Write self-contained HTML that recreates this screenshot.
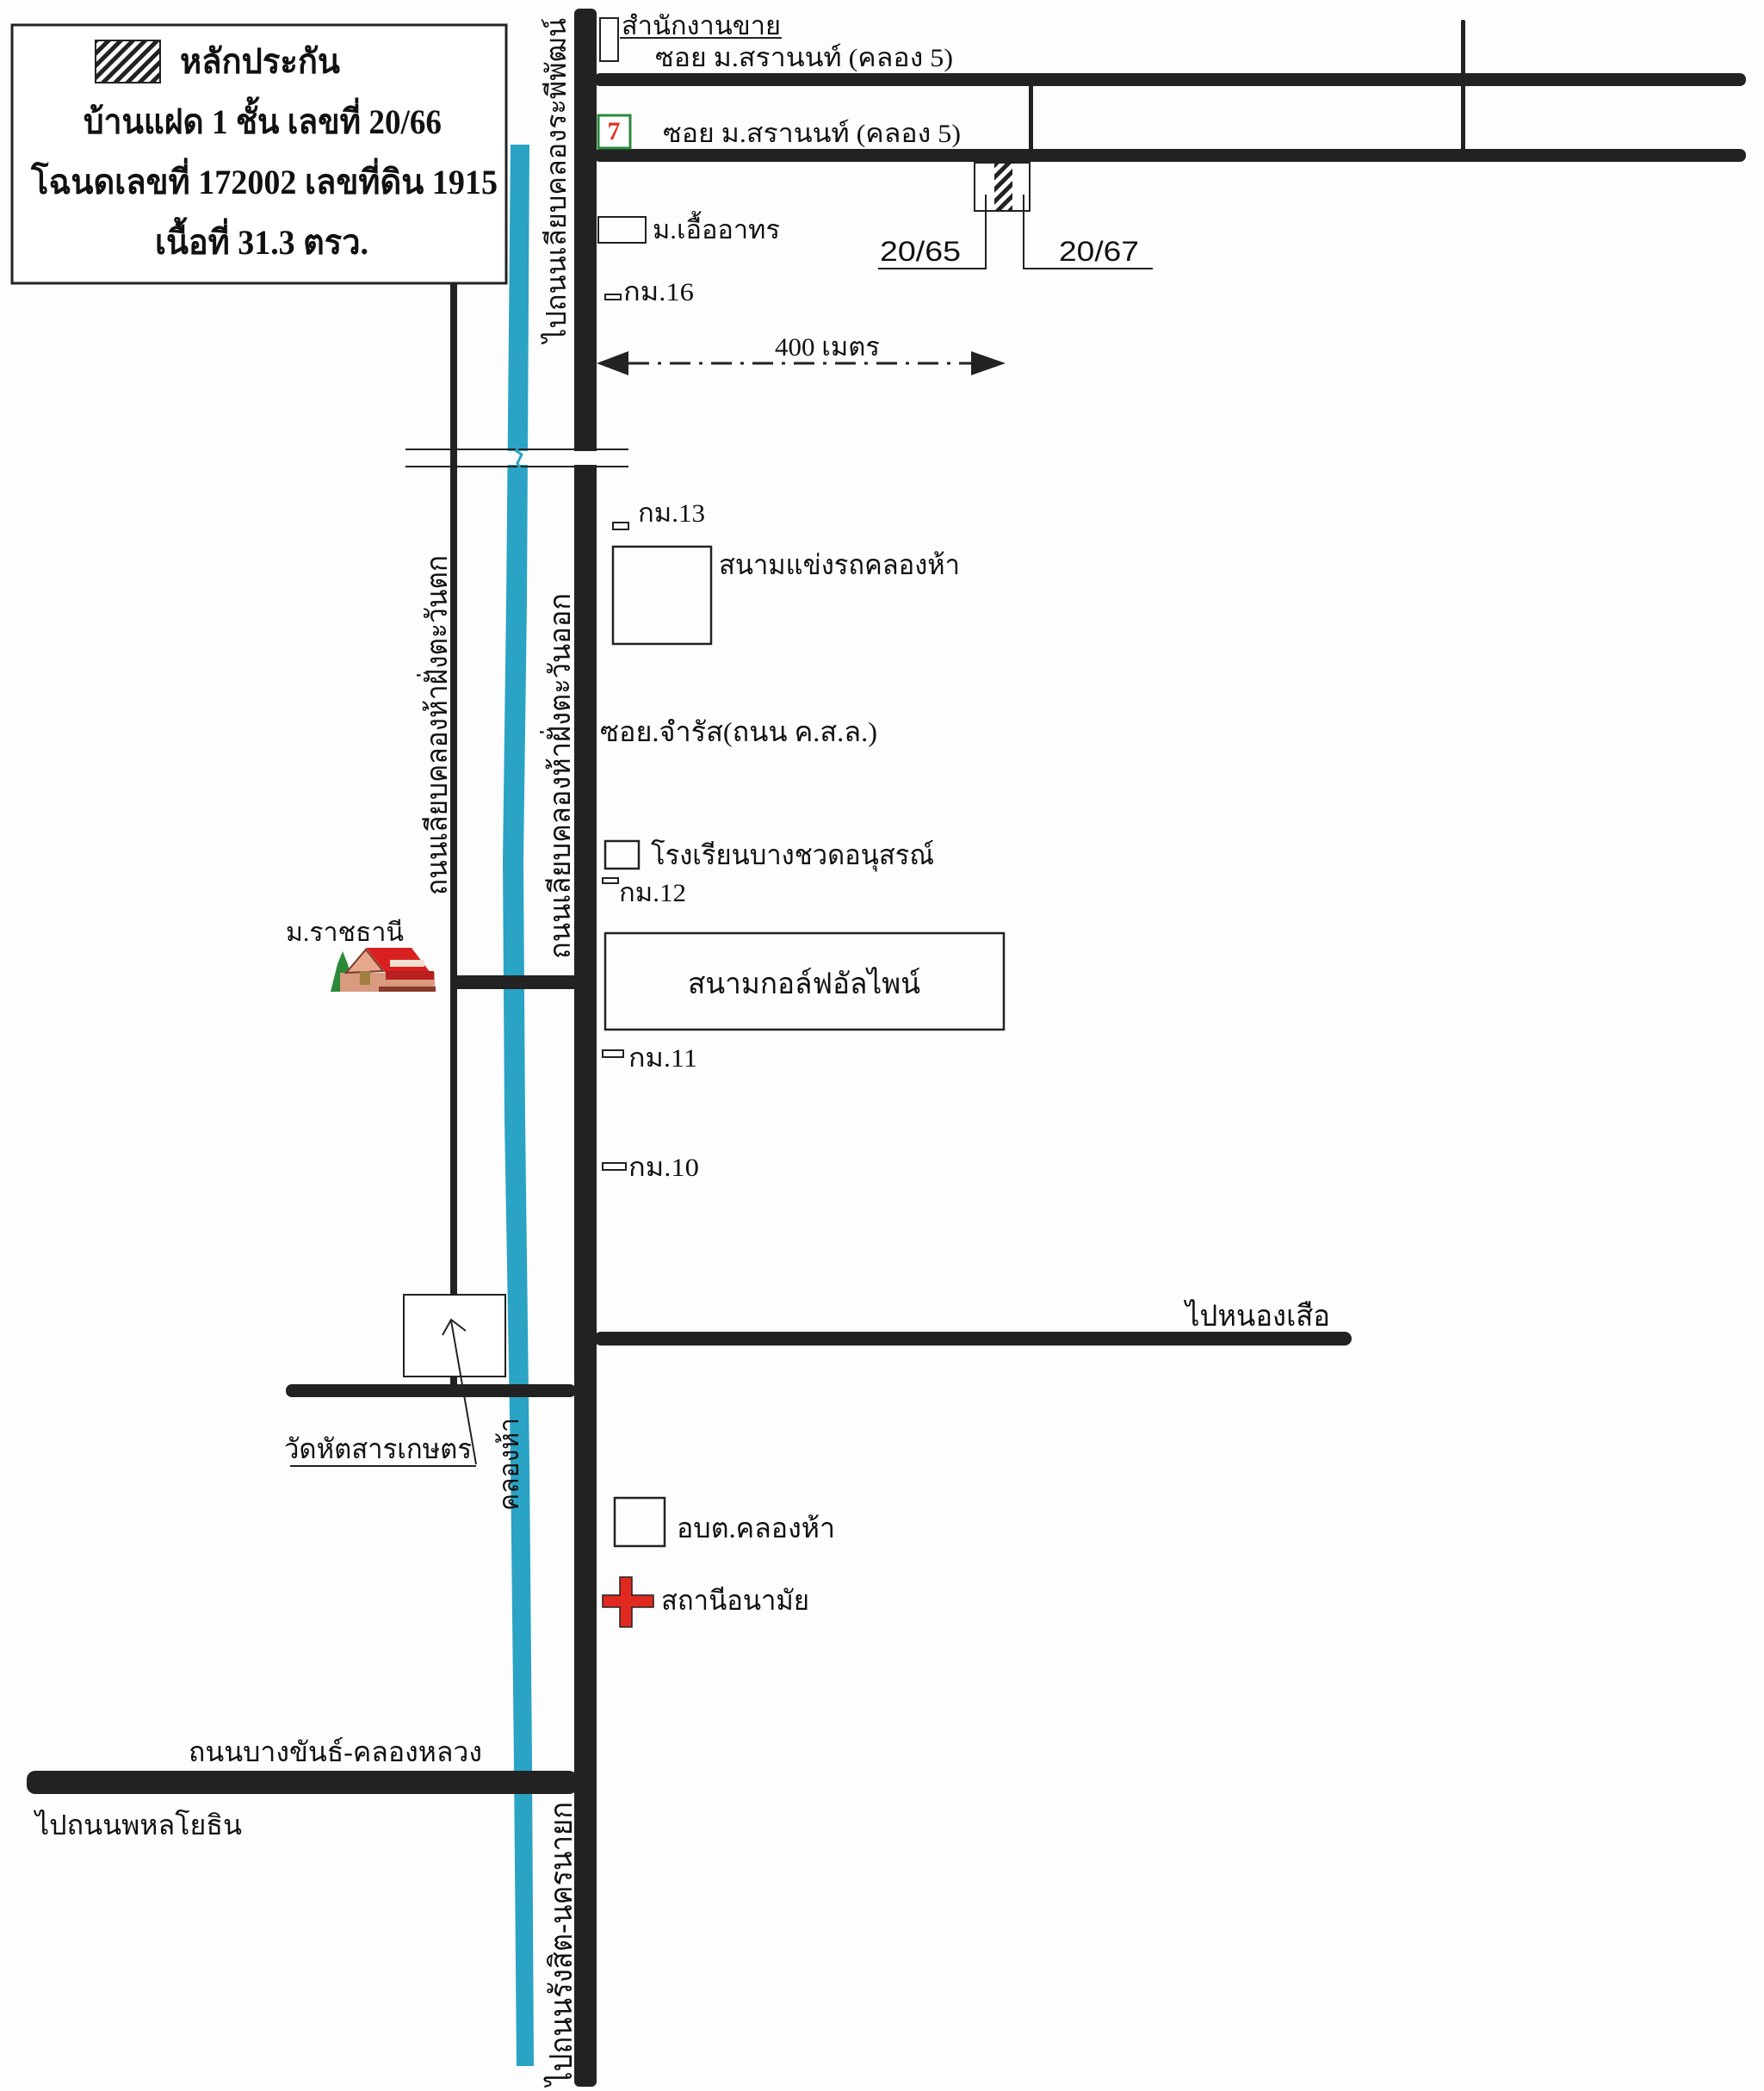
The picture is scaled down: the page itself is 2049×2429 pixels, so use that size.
<!DOCTYPE html>
<html><head><meta charset="utf-8"><style>
html,body{margin:0;padding:0;background:#fdfdfd;}
svg{display:block;}
text{font-family:"Liberation Serif","DejaVu Serif",serif;fill:#111;}
</style></head><body>
<svg width="2049" height="2429" viewBox="0 0 2049 2429" xmlns="http://www.w3.org/2000/svg">
<defs>
<pattern id="h" width="10" height="10" patternUnits="userSpaceOnUse" patternTransform="rotate(45)">
<rect width="10" height="10" fill="#fff"/><rect width="5" height="10" fill="#222"/>
</pattern>
</defs>
<rect width="2049" height="2429" fill="#fdfdfd"/>

<!-- canal -->
<polygon points="593,168 615,168 612,700 608,1000 610,1300 615,1700 618,2050 620,2400 600,2400 597,2050 593,1700 586,1300 584,1000 588,700" fill="#2aa3c4"/>

<!-- thin left road -->
<rect x="523" y="330" width="8" height="1174" fill="#222"/>
<rect x="523" y="1133" width="146" height="16" fill="#222"/>

<!-- main road -->
<rect x="667" y="10" width="26" height="2414" rx="6" fill="#222"/>

<!-- top soi roads -->
<rect x="690" y="85" width="1338" height="15" rx="7" fill="#222"/>
<rect x="690" y="173" width="1338" height="15" rx="7" fill="#222"/>
<rect x="1195" y="98" width="5" height="77" fill="#222"/>
<rect x="1697" y="23" width="5" height="152" rx="2" fill="#222"/>

<!-- road to nong suea -->
<rect x="690" y="1547" width="880" height="16" rx="8" fill="#222"/>
<!-- road near temple -->
<rect x="332" y="1608" width="337" height="15" rx="7" fill="#222"/>
<!-- bottom road -->
<rect x="31" y="2057" width="640" height="27" rx="10" fill="#222"/>

<!-- break -->
<rect x="580" y="524" width="120" height="16" fill="#fdfdfd"/>
<rect x="523" y="522" width="8" height="20" fill="#222"/>
<line x1="471" y1="522" x2="730" y2="522" stroke="#222" stroke-width="2"/>
<line x1="471" y1="542" x2="730" y2="542" stroke="#222" stroke-width="2"/>
<polyline points="603,515 600,524 606,528 601,538 606,548" fill="none" stroke="#2aa3c4" stroke-width="3"/>

<!-- legend box -->
<rect x="14" y="29" width="574" height="300" fill="#fff" stroke="#222" stroke-width="3"/>
<rect x="111" y="47" width="75" height="49" fill="url(#h)" stroke="#222" stroke-width="2"/>
<text x="209" y="85" font-size="40" font-weight="bold" textLength="186" lengthAdjust="spacingAndGlyphs">หลักประกัน</text>
<text x="305" y="155" font-size="40" font-weight="bold" text-anchor="middle" textLength="416" lengthAdjust="spacingAndGlyphs">บ้านแฝด 1 ชั้น เลขที่ 20/66</text>
<text x="307" y="225" font-size="40" font-weight="bold" text-anchor="middle" textLength="542" lengthAdjust="spacingAndGlyphs">โฉนดเลขที่ 172002   เลขที่ดิน 1915</text>
<text x="304" y="295" font-size="40" font-weight="bold" text-anchor="middle" textLength="248" lengthAdjust="spacingAndGlyphs">เนื้อที่ 31.3 ตรว.</text>

<!-- top vertical label -->
<text transform="translate(657,398) rotate(-90)" font-size="32" textLength="377" lengthAdjust="spacingAndGlyphs">ไปถนนเลียบคลองระพีพัฒน์</text>

<!-- sales office -->
<rect x="697" y="21" width="21" height="50" fill="none" stroke="#222" stroke-width="2"/>
<text x="722" y="40" font-size="30" textLength="185" lengthAdjust="spacingAndGlyphs">สำนักงานขาย</text>
<line x1="720" y1="44" x2="908" y2="44" stroke="#222" stroke-width="2"/>
<text x="761" y="77" font-size="30" textLength="346" lengthAdjust="spacingAndGlyphs">ซอย ม.สรานนท์ (คลอง 5)</text>

<!-- 7-11 -->
<rect x="695" y="134" width="37" height="38" fill="#fff" stroke="#2a8a3a" stroke-width="3"/>
<text x="713" y="162" font-size="30" font-weight="bold" text-anchor="middle" style="fill:#e03020">7</text>
<text x="770" y="165" font-size="30" textLength="346" lengthAdjust="spacingAndGlyphs">ซอย ม.สรานนท์ (คลอง 5)</text>

<!-- plot -->
<rect x="1132" y="189" width="64" height="56" fill="#fff" stroke="#222" stroke-width="2"/>
<rect x="1155" y="190" width="21" height="54" fill="url(#h)"/>
<polyline points="1145,226 1145,312 1020,312" fill="none" stroke="#222" stroke-width="2"/>
<polyline points="1189,226 1189,312 1339,312" fill="none" stroke="#222" stroke-width="2"/>
<text x="1022" y="303" font-size="32" style="font-family:'Liberation Sans',sans-serif" textLength="94" lengthAdjust="spacingAndGlyphs">20/65</text>
<text x="1230" y="303" font-size="32" style="font-family:'Liberation Sans',sans-serif" textLength="93" lengthAdjust="spacingAndGlyphs">20/67</text>

<!-- moo uea arthorn -->
<rect x="695" y="252" width="55" height="30" fill="none" stroke="#222" stroke-width="2"/>
<text x="758" y="277" font-size="30" textLength="148" lengthAdjust="spacingAndGlyphs">ม.เอื้ออาทร</text>

<!-- km16 -->
<rect x="703" y="342" width="18" height="6" fill="none" stroke="#222" stroke-width="2"/>
<text x="724" y="349" font-size="30" textLength="82" lengthAdjust="spacingAndGlyphs">กม.16</text>

<!-- 400 m arrow -->
<line x1="730" y1="422" x2="1130" y2="422" stroke="#222" stroke-width="3" stroke-dasharray="24 10 4 10"/>
<polygon points="693,422 730,408 730,436" fill="#222"/>
<polygon points="1168,422 1128,408 1128,436" fill="#222"/>
<text x="900" y="413" font-size="30" textLength="122" lengthAdjust="spacingAndGlyphs">400 เมตร</text>

<!-- km13 -->
<rect x="712" y="607" width="18" height="8" fill="none" stroke="#222" stroke-width="2"/>
<text x="741" y="606" font-size="30" textLength="78" lengthAdjust="spacingAndGlyphs">กม.13</text>

<!-- race track -->
<rect x="712" y="635" width="114" height="113" fill="none" stroke="#222" stroke-width="2.5"/>
<text x="835" y="667" font-size="32" textLength="280" lengthAdjust="spacingAndGlyphs">สนามแข่งรถคลองห้า</text>

<!-- vertical labels -->
<text transform="translate(519,1040) rotate(-90)" font-size="34" textLength="395" lengthAdjust="spacingAndGlyphs">ถนนเลียบคลองห้าฝั่งตะวันตก</text>
<text transform="translate(662,1114) rotate(-90)" font-size="34" textLength="425" lengthAdjust="spacingAndGlyphs">ถนนเลียบคลองห้าฝั่งตะวันออก</text>

<text x="697" y="861" font-size="32" textLength="322" lengthAdjust="spacingAndGlyphs">ซอย.จำรัส(ถนน ค.ส.ล.)</text>

<!-- school -->
<rect x="703" y="977" width="39" height="32" fill="none" stroke="#222" stroke-width="2.5"/>
<text x="756" y="1004" font-size="32" textLength="329" lengthAdjust="spacingAndGlyphs">โรงเรียนบางชวดอนุสรณ์</text>
<rect x="700" y="1020" width="18" height="6" fill="none" stroke="#222" stroke-width="2"/>
<text x="719" y="1047" font-size="30" textLength="78" lengthAdjust="spacingAndGlyphs">กม.12</text>

<!-- ratchathani -->
<text x="332" y="1093" font-size="30" textLength="137" lengthAdjust="spacingAndGlyphs">ม.ราชธานี</text>
<g>
<polygon points="384,1152 392,1120 398,1105 404,1120 412,1152" fill="#2a8a3a"/>
<rect x="395" y="1130" width="110" height="22" fill="#d99a80"/>
<polygon points="402,1130 425,1103 445,1128" fill="#e8a890" stroke="#7a3a2a" stroke-width="2"/>
<polygon points="425,1101 478,1101 500,1130 448,1130" fill="#d82020"/>
<rect x="448" y="1128" width="56" height="10" fill="#b82020"/>
<rect x="453" y="1115" width="40" height="8" fill="#f0e0d0"/>
<rect x="418" y="1128" width="12" height="16" fill="#a08040"/>
<rect x="440" y="1146" width="66" height="6" fill="#8a3a2a"/>
</g>

<!-- golf -->
<rect x="703" y="1084" width="463" height="112" fill="none" stroke="#222" stroke-width="2.5"/>
<text x="934" y="1154" font-size="34" text-anchor="middle" textLength="270" lengthAdjust="spacingAndGlyphs">สนามกอล์ฟอัลไพน์</text>

<rect x="700" y="1220" width="24" height="8" fill="none" stroke="#222" stroke-width="2"/>
<text x="730" y="1239" font-size="30" textLength="80" lengthAdjust="spacingAndGlyphs">กม.11</text>
<rect x="700" y="1351" width="27" height="8" fill="none" stroke="#222" stroke-width="2"/>
<text x="730" y="1366" font-size="30" textLength="82" lengthAdjust="spacingAndGlyphs">กม.10</text>

<text x="1377" y="1540" font-size="34" textLength="168" lengthAdjust="spacingAndGlyphs">ไปหนองเสือ</text>

<!-- temple -->
<rect x="469" y="1504" width="118" height="95" fill="#fff" stroke="#222" stroke-width="2"/>
<rect x="523" y="1598" width="8" height="10" fill="#222"/>
<line x1="553" y1="1701" x2="524" y2="1534" stroke="#222" stroke-width="2"/>
<polyline points="514,1551 524,1533 541,1546" fill="none" stroke="#222" stroke-width="2"/>
<text x="330" y="1694" font-size="32" textLength="218" lengthAdjust="spacingAndGlyphs">วัดหัตสารเกษตร</text>
<line x1="337" y1="1703" x2="553" y2="1703" stroke="#222" stroke-width="2"/>
<text transform="translate(602,1755) rotate(-90)" font-size="32" textLength="108" lengthAdjust="spacingAndGlyphs">คลองห้า</text>

<!-- obt -->
<rect x="714" y="1740" width="58" height="56" fill="none" stroke="#222" stroke-width="2.5"/>
<text x="786" y="1786" font-size="32" textLength="184" lengthAdjust="spacingAndGlyphs">อบต.คลองห้า</text>
<rect x="700" y="1853" width="59" height="14" fill="#e02a20" stroke="#222" stroke-width="1.5"/>
<rect x="720" y="1832" width="14" height="58" fill="#e02a20" stroke="#222" stroke-width="1.5"/>
<rect x="701" y="1854" width="57" height="12" fill="#e02a20"/>
<text x="768" y="1870" font-size="32" textLength="172" lengthAdjust="spacingAndGlyphs">สถานีอนามัย</text>

<text x="219" y="2046" font-size="32" textLength="341" lengthAdjust="spacingAndGlyphs">ถนนบางขันธ์-คลองหลวง</text>
<text x="41" y="2131" font-size="32" textLength="240" lengthAdjust="spacingAndGlyphs">ไปถนนพหลโยธิน</text>
<text transform="translate(664,2423) rotate(-90)" font-size="36" textLength="330" lengthAdjust="spacingAndGlyphs">ไปถนนรังสิต-นครนายก</text>
</svg>
</body></html>
